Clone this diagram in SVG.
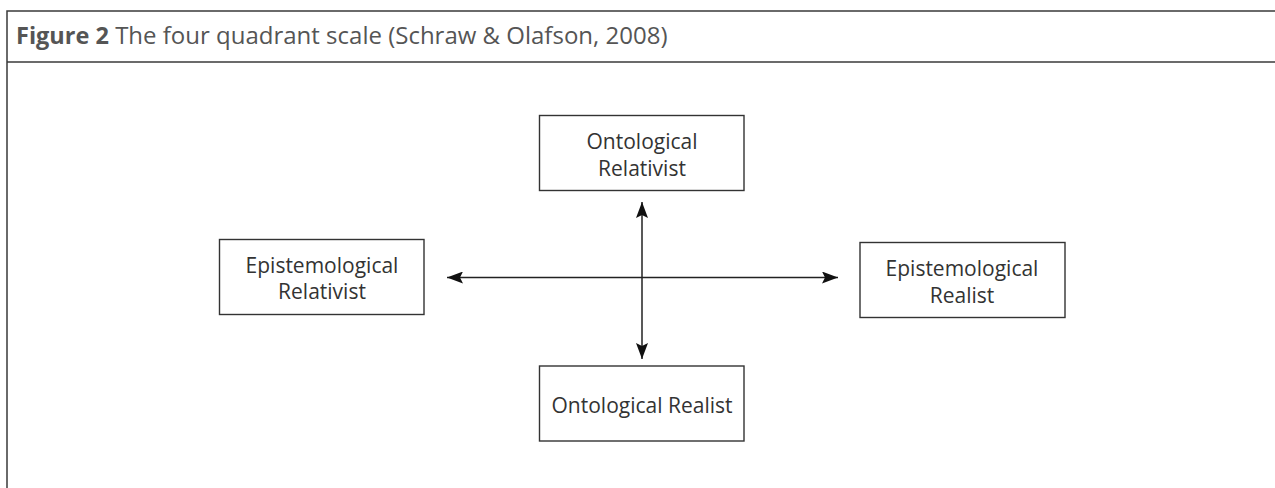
<svg xmlns="http://www.w3.org/2000/svg" width="1275" height="488" viewBox="0 0 1275 488">
<defs>
<style>
.frame{stroke:#3a3a3a;stroke-width:1.5;fill:none}
.box{fill:#fff;stroke:#333;stroke-width:1.4}
.lbl{font-family:"Open Sans","Noto Sans","Liberation Sans",sans-serif;font-size:21px;fill:#333;text-anchor:middle}
.hdr{font-family:"Open Sans","Noto Sans","Liberation Sans",sans-serif;font-size:24px;fill:#555}
.conn{stroke:#222;stroke-width:1.5;fill:none}
</style>
<marker id="ah" viewBox="0 0 16 12" refX="16" refY="6" markerWidth="16" markerHeight="12" markerUnits="userSpaceOnUse" orient="auto-start-reverse">
<path d="M0,0 L16,6 L0,12 L3,6 Z" fill="#111"/>
</marker>
</defs>
<rect x="0" y="0" width="1275" height="488" fill="#fff"/>
<g id="frame">
<path class="frame" d="M1275,11 H7 V488"/>
<path class="frame" d="M7,62 H1275"/>
<text class="hdr" x="16" y="44"><tspan font-weight="bold" font-size="23.5">Figure 2</tspan> The four quadrant scale (Schraw &amp; Olafson, 2008)</text>
</g>
<g id="connectors">
<line class="conn" x1="642" y1="202" x2="642" y2="359" marker-start="url(#ah)" marker-end="url(#ah)" stroke="#444"/>
<line class="conn" x1="447" y1="277.5" x2="838" y2="277.5" marker-start="url(#ah)" marker-end="url(#ah)"/>
</g>
<g id="ontological-relativist">
<rect class="box" x="539.5" y="115.5" width="204.5" height="75"/>
<text class="lbl" x="642" y="149">Ontological</text>
<text class="lbl" x="642" y="176">Relativist</text>
</g>
<g id="epistemological-relativist">
<rect class="box" x="219.5" y="239.5" width="204.5" height="75"/>
<text class="lbl" x="322" y="273">Epistemological</text>
<text class="lbl" x="322" y="299">Relativist</text>
</g>
<g id="epistemological-realist">
<rect class="box" x="860" y="242.5" width="205" height="75"/>
<text class="lbl" x="962" y="276">Epistemological</text>
<text class="lbl" x="962" y="303">Realist</text>
</g>
<g id="ontological-realist">
<rect class="box" x="539.5" y="366" width="204.5" height="75"/>
<text class="lbl" x="642" y="413">Ontological Realist</text>
</g>
</svg>
